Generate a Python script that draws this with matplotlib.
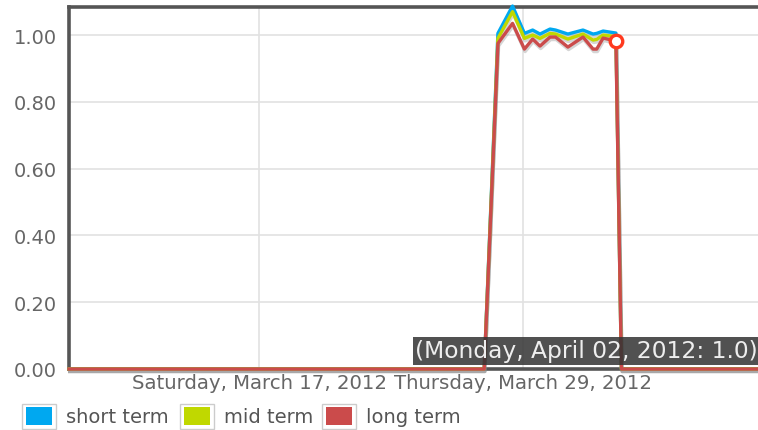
import matplotlib
matplotlib.use("Agg")
import matplotlib.pyplot as plt
import matplotlib.patheffects as pe
from matplotlib.patches import Rectangle
import pandas as pd

plt.rcParams["font.family"] = ["DejaVu Sans"]

# sample times and the three series
times = ["2012-03-08 08:10", "2012-03-27 06:00", "2012-03-27 21:00", "2012-03-28 13:00",
         "2012-03-29 02:00", "2012-03-29 11:00", "2012-03-29 19:00", "2012-03-30 06:00",
         "2012-03-30 12:00", "2012-03-31 01:30", "2012-03-31 18:00", "2012-04-01 05:00",
         "2012-04-01 09:00", "2012-04-01 16:00", "2012-04-02 06:00", "2012-04-02 12:00",
         "2012-04-12 00:00"]
short_term = [0, 0, 1.005, 1.087, 1.005, 1.015, 1.003, 1.018, 1.015, 1.003, 1.015,
              1.003, 1.005, 1.012, 1.006, 0, 0]
mid_term = [0, 0, 0.99, 1.07, 0.99, 1.0, 0.99, 1.005, 1.003, 0.988, 1.003,
            0.985, 0.987, 1.0, 0.995, 0, 0]
long_term = [0, 0, 0.975, 1.035, 0.958, 0.988, 0.967, 0.994, 0.994, 0.964, 0.994,
             0.958, 0.958, 0.991, 0.982, 0, 0]
labels = ["short term", "mid term", "long term"]
colors = ["#00a8f0", "#c0d800", "#cb4b4b"]

xtick_dates = ["2012-03-17", "2012-03-29"]
xtick_labels = ["Saturday, March 17, 2012", "Thursday, March 29, 2012"]
yticks = [0.0, 0.2, 0.4, 0.6, 0.8, 1.0]

highlight_time = "2012-04-02 06:00"
highlight_value = 0.982
tooltip = "(Monday, April 02, 2012: 1.0)"

W, H = 758, 431
fig = plt.figure(figsize=(W / 100, H / 100), dpi=100)
ax = fig.add_axes([69 / W, 61 / H, 705 / W, 362 / H])

t = pd.to_datetime(times)
shadow = [pe.SimpleLineShadow(offset=(0.5, -1.8), shadow_color="#888888", alpha=0.35),
          pe.Normal()]
for ys, c, lab in zip([short_term, mid_term, long_term], colors, labels):
    ax.plot(t, ys, color=c, lw=2.4, label=lab, path_effects=shadow, zorder=3,
            solid_joinstyle="round", clip_on=False)

ax.plot(pd.to_datetime([highlight_time]), [highlight_value], "o", ms=9, mfc="white",
        mec="#ff3a1f", mew=2.4, zorder=5)

x0 = pd.Timestamp("2012-03-17") - pd.Timedelta(days=8.66)
x1 = pd.Timestamp("2012-03-17") + pd.Timedelta(days=23.45)
ax.set_xlim(x0, x1)
ax.set_ylim(0, 1.084)

ax.set_yticks(yticks)
ax.set_yticklabels([f"{v:.2f}" for v in yticks])
ax.set_xticks(pd.to_datetime(xtick_dates))
ax.set_xticklabels(xtick_labels)
ax.tick_params(length=0, colors="#666666", labelsize=14, pad=9)
ax.tick_params(axis="x", labelsize=14.2, pad=3)
ax.grid(True, color="#e2e2e2", lw=1.2)
ax.set_axisbelow(True)

for s in ["left", "top", "bottom"]:
    ax.spines[s].set_color("#555555")
    ax.spines[s].set_linewidth(2.6)
ax.spines["right"].set_visible(False)

# tooltip box
fig.text(415 / W, 1 - 352 / H, tooltip, color="#eeeeee", fontsize=16.8, va="center",
         ha="left", bbox=dict(boxstyle="square,pad=0.1", fc="#333333", ec="none", alpha=0.85),
         zorder=10)

# legend
lx = [22, 180, 322]
for x, c, lab in zip(lx, colors, labels):
    fig.patches.append(Rectangle((x / W, 1 - 430 / H), 34 / W, 25 / H, transform=fig.transFigure,
                                 fc="white", ec="#cccccc", lw=1))
    fig.patches.append(Rectangle(((x + 4) / W, 1 - 426 / H), 26 / W, 18 / H,
                                 transform=fig.transFigure, fc=c, ec="none"))
    fig.text((x + 44) / W, 1 - 418 / H, lab, color="#555555", fontsize=14, va="center")

fig.savefig("out.png", dpi=100)
